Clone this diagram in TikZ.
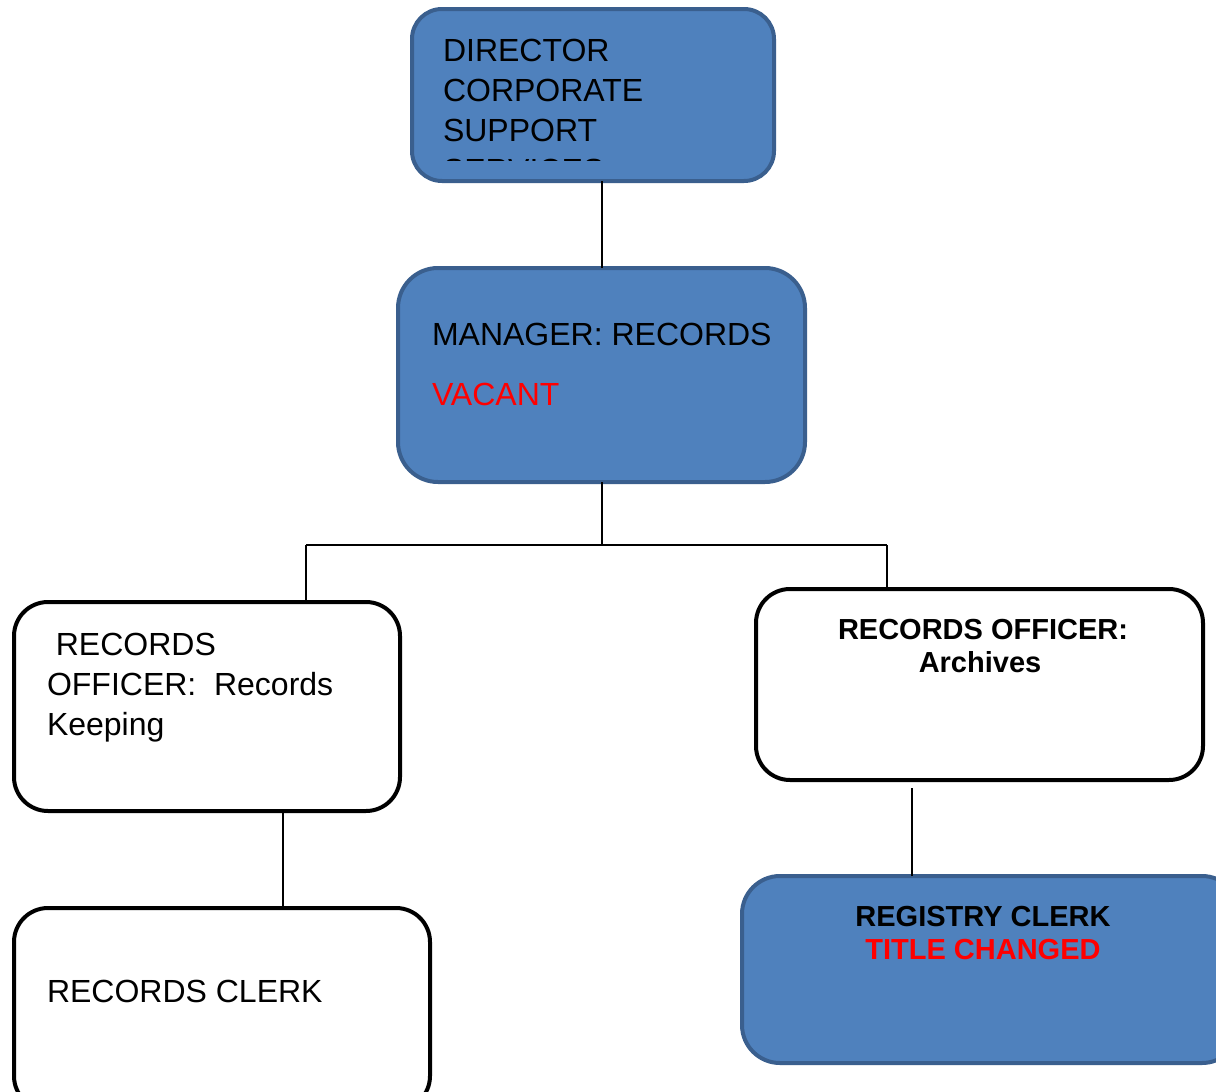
\documentclass[tikz,border=0pt]{standalone}
\usepackage{fontspec}
\setmainfont{Liberation Sans}
\usetikzlibrary{calc}
\definecolor{boxblue}{HTML}{4F81BD}
\definecolor{boxedge}{HTML}{3A5F8E}
\definecolor{alertred}{HTML}{FF0000}
\begin{document}
\begin{tikzpicture}[x=1pt,y=-1pt,
  bluebox/.style={draw=boxedge,fill=boxblue,line width=4pt,rounded corners=#1,inner sep=0,outer sep=0},
  bluebox/.default=30pt,
  whitebox/.style={draw=black,fill=white,line width=4pt,rounded corners=#1,inner sep=0,outer sep=0},
  whitebox/.default=34pt,
  link/.style={draw=black,line width=1.5pt},
  label/.style={anchor=base west,inner sep=0,outer sep=0,font=\fontsize{32}{38}\selectfont},
  boldlabel/.style={anchor=base,inner sep=0,outer sep=0,font=\fontsize{29}{33}\selectfont\bfseries},
]
\clip (0,0) rectangle (1216,1092);
\fill[white] (0,0) rectangle (1216,1092);

% boxes
\path[bluebox=30pt] (412,9) rectangle (774,181);
\coordinate (dirS) at (602,181);
\path[bluebox=40pt] (398,268) rectangle (805,482);
\coordinate (mgrN) at (602,268);
\coordinate (mgrS) at (602,482);
\path[whitebox=34pt] (14,602) rectangle (400,811);
\coordinate (rolN) at (306,602);
\coordinate (rolS) at (283,811);
\path[whitebox=34pt] (756,589) rectangle (1203,780);
\coordinate (roaN) at (887,589);
\coordinate (roaS) at (912,788);
\path[whitebox=34pt] (14,908) rectangle (430,1110);
\coordinate (rcN) at (283,908);
\path[bluebox=38pt] (742,876) rectangle (1240,1063);
\coordinate (regN) at (912,876);

% connectors
\coordinate (bus) at (602,545);
\coordinate (busL) at (306,545);
\coordinate (busR) at (887,545);
\draw[link] (dirS) -- (mgrN);
\draw[link] (mgrS) -- (bus);
\draw[link] (busL) -- (busR);
\draw[link] (busL) -- (rolN);
\draw[link] (busR) -- (roaN);
\draw[link] (rolS) -- (rcN);
\draw[link] (roaS) -- (regN);

% director text, last line cut off by the text frame
\begin{scope}
  \clip (430,20) rectangle (760,160);
  \node[label] (d1) at (443,61) {DIRECTOR};
  \node[label] (d2) at (443,101) {CORPORATE};
  \node[label] (d3) at (443,141) {SUPPORT};
  \node[label] (d4) at (443,181) {SERVICES};
\end{scope}

% manager
\node[label] (m1) at (432,345) {MANAGER: RECORDS};
\node[label,text=alertred] (m2) at (432,405) {VACANT};

% records officer: records keeping
\node[label] (k1) at (47,655) {\ RECORDS};
\node[label] (k2) at (47,695) {OFFICER:\ \ Records};
\node[label] (k3) at (47,735) {Keeping};

% records officer: archives
\node[boldlabel] (a1) at (983,639) {RECORDS OFFICER:};
\node[boldlabel] (a2) at (980,672) {Archives};

% records clerk
\node[label] (c1) at (47,1002) {RECORDS CLERK};

% registry clerk
\node[boldlabel] (r1) at (983,926) {REGISTRY CLERK};
\node[boldlabel,text=alertred] (r2) at (983,959) {TITLE CHANGED};
\end{tikzpicture}
\end{document}
